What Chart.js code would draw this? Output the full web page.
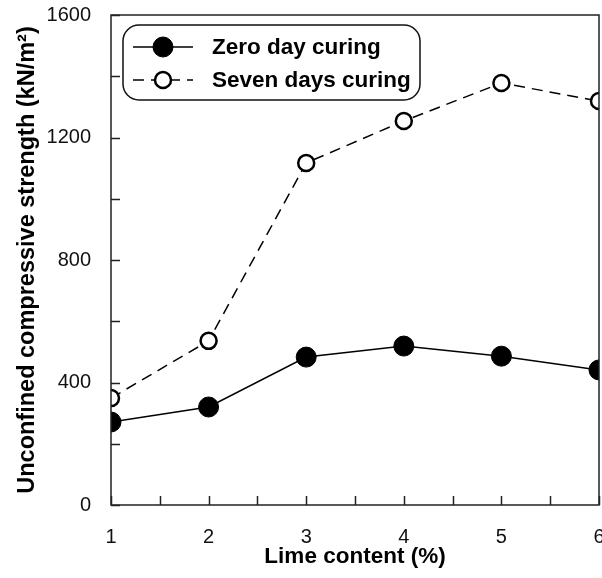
<!DOCTYPE html>
<html>
<head>
<meta charset="utf-8">
<script src="https://cdn.jsdelivr.net/npm/chart.js@4/dist/chart.umd.min.js"></script>
<style>
  html, body { margin: 0; padding: 0; background: #fff; }
  #wrap { width: 602px; height: 578px; }
</style>
</head>
<body>
<div id="wrap"><canvas id="myChart"></canvas></div>
<script>
// data
var limeContent = [1, 2, 3, 4, 5, 6];
var zeroDay = [271, 320, 483, 519, 486, 441];
var sevenDays = [349, 536, 1117, 1254, 1378, 1319];
var xTicks = [1, 2, 3, 4, 5, 6];
var yTicks = [0, 400, 800, 1200, 1600];

var FONT = "Arial, 'Liberation Sans', sans-serif";

function pts(xs, ys) {
  return xs.map(function (x, i) { return { x: x, y: ys[i] }; });
}

// no extra room for overflowing end labels
function noPad(s) {
  s.paddingLeft = 0; s.paddingRight = 0;
  s.paddingTop = 0; s.paddingBottom = 0;
}

// frame, inside ticks and the rounded legend box
var framePlugin = {
  id: 'frame',
  afterDraw: function (chart) {
    var c = chart.ctx, a = chart.chartArea;
    var xs = chart.scales.x, ys = chart.scales.y;
    c.save();
    c.strokeStyle = '#222';
    c.lineWidth = 1.5;
    c.strokeRect(a.left, a.top, a.right - a.left, a.bottom - a.top);
    c.beginPath();
    xs.ticks.forEach(function (t) {
      var px = Math.round(xs.getPixelForValue(t.value)) + 0.5;
      c.moveTo(px, a.bottom);
      c.lineTo(px, a.bottom - 9);
    });
    ys.ticks.forEach(function (t) {
      var py = Math.round(ys.getPixelForValue(t.value)) + 0.5;
      c.moveTo(a.left, py);
      c.lineTo(a.left + 9, py);
    });
    c.stroke();

    // legend
    var bx = 123, by = 25, bw = 297, bh = 75, r = 16;
    c.fillStyle = '#fff';
    c.beginPath();
    c.roundRect(bx, by, bw, bh, r);
    c.fill();
    c.lineWidth = 1.5;
    c.strokeStyle = '#111';
    c.stroke();

    var rows = [47, 80];
    chart.data.datasets.forEach(function (ds, i) {
      var yy = rows[i];
      c.strokeStyle = '#000';
      c.lineWidth = ds.borderWidth;
      c.setLineDash(ds.borderDash || []);
      c.beginPath();
      c.moveTo(133, yy);
      c.lineTo(193, yy);
      c.stroke();
      c.setLineDash([]);
      c.beginPath();
      c.arc(163, yy, ds.pointRadius, 0, Math.PI * 2);
      c.fillStyle = ds.pointBackgroundColor;
      c.fill();
      c.lineWidth = ds.pointBorderWidth;
      c.strokeStyle = ds.pointBorderColor;
      c.stroke();
      c.fillStyle = '#000';
      c.font = 'bold 22.5px ' + FONT;
      c.textBaseline = 'middle';
      c.fillText(ds.label, 212, yy + 1);
    });
    c.restore();
  }
};

var ctx = document.getElementById('myChart').getContext('2d');

var myChart = new Chart(ctx, {
  type: 'line',
  data: {
    datasets: [
      {
        label: 'Zero day curing',
        data: pts(limeContent, zeroDay),
        borderColor: '#000',
        borderWidth: 1.5,
        pointRadius: 10,
        pointBackgroundColor: '#000',
        pointBorderColor: '#000',
        pointBorderWidth: 1,
        tension: 0
      },
      {
        label: 'Seven days curing',
        data: pts(limeContent, sevenDays),
        borderColor: '#000',
        borderWidth: 1.5,
        borderDash: [11, 7],
        pointRadius: 8,
        pointBackgroundColor: '#fff',
        pointBorderColor: '#000',
        pointBorderWidth: 2.5,
        tension: 0
      }
    ]
  },
  options: {
    responsive: true,
    maintainAspectRatio: false,
    animation: false,
    layout: { autoPadding: false, padding: { top: 15, right: 3, left: 0, bottom: 0 } },
    plugins: {
      legend: { display: false },
      tooltip: { enabled: false }
    },
    scales: {
      x: {
        type: 'linear',
        min: 1,
        max: 6,
        grid: { display: false },
        border: { display: false },
        afterFit: function (s) { s.height = 73; noPad(s); },
        ticks: {
          stepSize: 0.5,
          color: '#111',
          padding: 12,
          maxRotation: 0,
          font: { family: FONT, size: 20 },
          callback: function (v) { return xTicks.indexOf(v) >= 0 ? String(v) : ''; }
        },
        title: {
          display: true,
          text: 'Lime content (%)',
          color: '#000',
          padding: { top: 0, bottom: 8 },
          font: { family: FONT, size: 22.5, weight: 'bold' }
        }
      },
      y: {
        min: 0,
        max: 1600,
        grid: { display: false },
        border: { display: false },
        afterFit: function (s) { s.width = 111; noPad(s); },
        ticks: {
          stepSize: 200,
          color: '#111',
          padding: 12,
          font: { family: FONT, size: 20 },
          callback: function (v) { return yTicks.indexOf(v) >= 0 ? String(v) : ''; }
        },
        title: {
          display: true,
          text: 'Unconfined compressive strength (kN/m²)',
          color: '#000',
          padding: { top: 13, bottom: 0 },
          font: { family: FONT, size: 23.5, weight: 'bold' }
        }
      }
    }
  },
  plugins: [framePlugin]
});
</script>
</body>
</html>
